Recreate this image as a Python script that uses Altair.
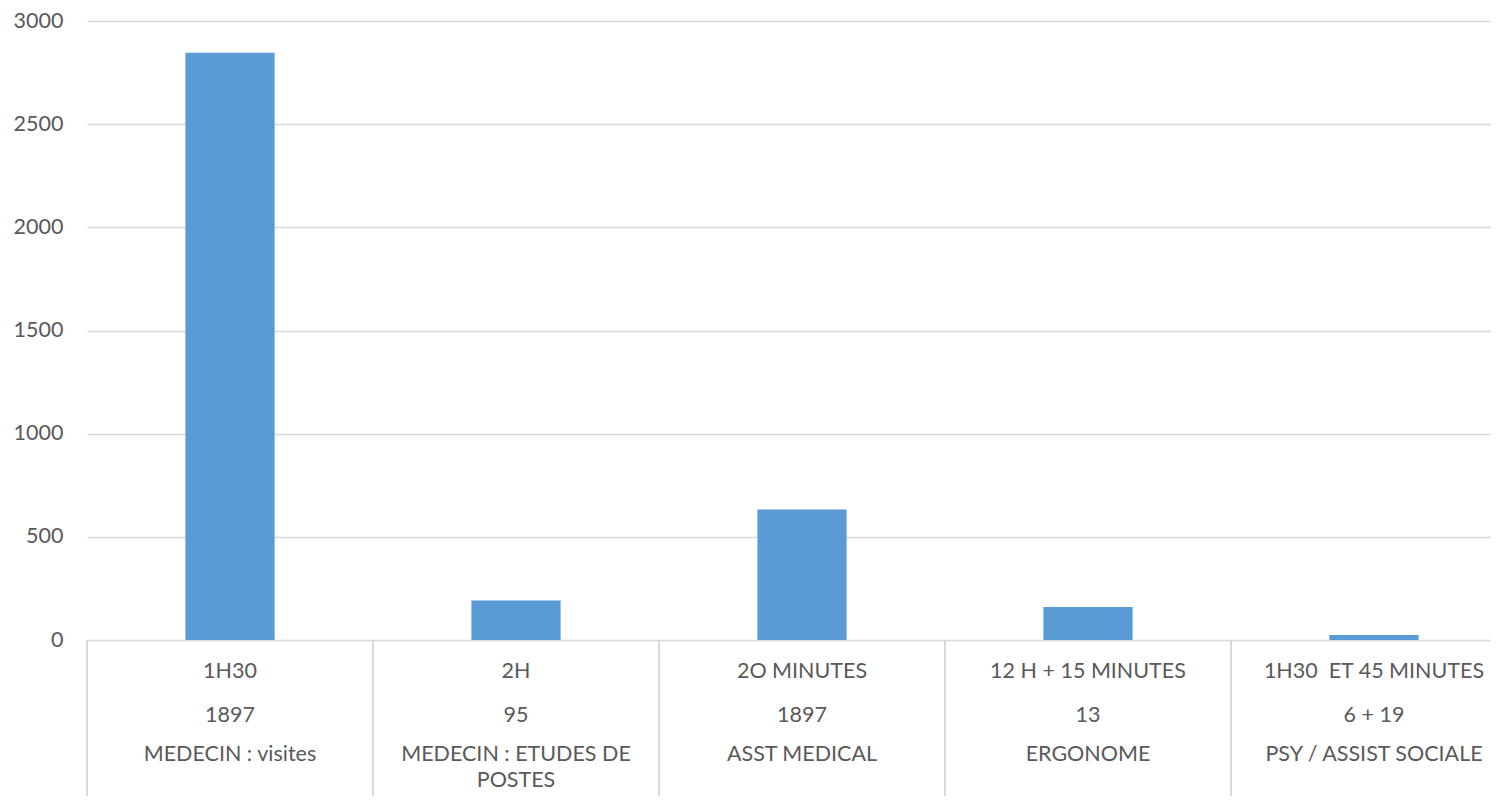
import altair as alt
import pandas as pd

# ---- data ----
durations = ["1H30", "2H", "2O MINUTES", "12 H + 15 MINUTES", "1H30\u00a0 ET 45 MINUTES"]
counts = ["1897", "95", "1897", "13", "6 + 19"]
roles = ["MEDECIN : visites", "MEDECIN : ETUDES DE\nPOSTES", "ASST MEDICAL", "ERGONOME", "PSY / ASSIST SOCIALE"]
values = [2846, 191, 633, 160, 24]

df = pd.DataFrame({
    "key": [f"c{i}" for i in range(len(roles))],
    "duration": durations,
    "count": counts,
    "role": roles,
    "value": values,
})
order = list(df["key"])

FONT = "Lato"
TXT = "#595959"
GRID = "#d9d9d9"
BLUE = "#5b9bd5"
W, H = 1404, 619
FS = 21.5

xscale = alt.Scale(domain=order, range=[0, 1430], paddingInner=0, paddingOuter=0)
x_enc = alt.X("key:N", sort=order, scale=xscale, axis=None)

base = alt.Chart(df)

bars = base.mark_bar(color=BLUE, width=alt.RelativeBandSize(0.312)).encode(
    x=x_enc,
    y=alt.Y(
        "value:Q",
        scale=alt.Scale(domain=[0, 3000], nice=False),
        axis=alt.Axis(
            values=[0, 500, 1000, 1500, 2000, 2500, 3000],
            format="d",
            title=None,
            grid=True,
            gridColor=GRID,
            gridWidth=1.5,
            domain=False,
            ticks=False,
            labelFont=FONT,
            labelFontSize=FS,
            labelColor=TXT,
            labelPadding=24,
        ),
    ),
)

seps = base.mark_rule(color=GRID, strokeWidth=2).encode(
    x=alt.X("key:N", sort=order, scale=xscale, axis=None, bandPosition=0),
    y=alt.value(H),
    y2=alt.value(H + 170),
)

def row(field, dy, **kw):
    return base.mark_text(
        font=FONT, fontSize=FS, color=TXT, baseline="top", align="center", **kw
    ).encode(
        x=alt.X("key:N", sort=order, scale=xscale, axis=None, bandPosition=0.5),
        y=alt.value(H + dy),
        text=alt.Text(f"{field}:N"),
    )

r1 = row("duration", 21)
r2 = row("count", 65)
r3 = row("role", 104, lineBreak="\n", lineHeight=26)

chart = (
    alt.layer(bars, seps, r1, r2, r3)
    .properties(
        width=W,
        height=H,
        background="white",
        autosize=alt.AutoSizeParams(type="none"),
        padding={"left": 79, "top": 13, "right": 0, "bottom": 156},
    )
    .configure_view(stroke="transparent", strokeWidth=0)
    .configure_axis(domain=False)
)

chart.save("out.html", embed_options={"renderer": "svg", "actions": False})
